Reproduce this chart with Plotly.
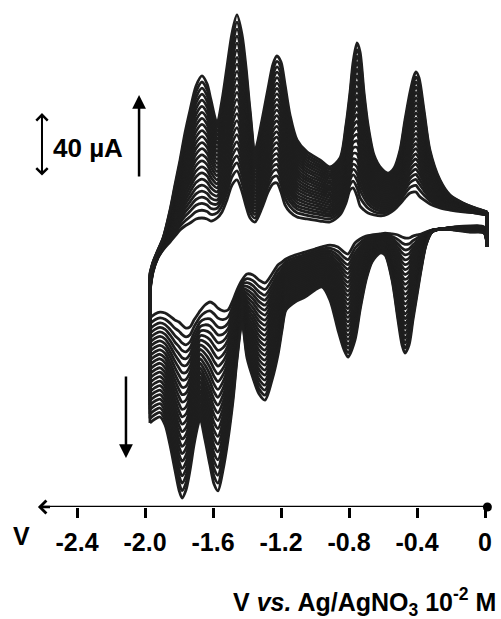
import plotly.graph_objects as go

# ---- anodic (return) branch, scanned -1.97 V -> 0 V ----
v_anodic = [-1.971, -1.953, -1.924, -1.894, -1.853, -1.824, -1.794, -1.765, -1.735, -1.700,
            -1.665, -1.635, -1.612, -1.576, -1.547, -1.518, -1.488, -1.459, -1.429, -1.406,
            -1.382, -1.353, -1.312, -1.276, -1.247, -1.224, -1.200, -1.176, -1.147, -1.106,
            -1.047, -0.971, -0.912, -0.853, -0.818, -0.794, -0.776, -0.753, -0.735, -0.712,
            -0.688, -0.653, -0.612, -0.571, -0.535, -0.500, -0.471, -0.441, -0.418, -0.406,
            -0.388, -0.359, -0.324, -0.265, -0.206, -0.129, -0.059, 0.012]
i_anodic_first = [-38.8, -26.3, -17.5, -12.5, -7.5, -3.8, 0.0, 2.5, 4.4, 6.9,
                  7.5, 6.9, 5.6, 7.5, 11.3, 18.8, 28.1, 31.3, 23.8, 15.0,
                  7.5, 5.0, 13.8, 23.8, 28.8, 29.4, 23.8, 15.6, 11.3, 8.1,
                  6.9, 5.6, 5.0, 9.4, 16.9, 25.0, 26.3, 21.3, 15.0, 12.5,
                  10.6, 9.4, 8.8, 10.0, 12.5, 16.3, 20.0, 23.1, 23.8, 23.8,
                  21.3, 18.8, 16.3, 13.8, 12.5, 11.3, 10.6, 9.4]
i_anodic_last = [-26.9, -20.0, -12.5, -5.0, 12.5, 28.1, 43.8, 60.6, 75.0, 90.0,
                 96.3, 91.3, 81.3, 66.9, 81.3, 101.9, 123.1, 134.4, 121.9, 101.9,
                 75.0, 50.0, 68.8, 88.8, 103.8, 108.8, 105.0, 90.6, 71.9, 56.3,
                 48.8, 43.8, 39.4, 45.0, 65.6, 86.3, 105.0, 116.9, 111.3, 86.3,
                 65.6, 46.9, 38.8, 35.6, 38.8, 50.0, 68.8, 86.3, 96.3, 98.8,
                 95.0, 75.0, 50.0, 31.3, 21.9, 16.9, 13.8, 11.3]

# ---- cathodic (forward) branch, scanned 0 V -> -1.97 V ----
v_cathodic = [0.012, -0.006, -0.088, -0.176, -0.265, -0.312, -0.347, -0.376, -0.400, -0.424,
              -0.447, -0.471, -0.488, -0.512, -0.547, -0.588, -0.618, -0.665, -0.700, -0.735,
              -0.765, -0.806, -0.829, -0.865, -0.912, -0.959, -1.000, -1.059, -1.118, -1.171,
              -1.194, -1.218, -1.253, -1.294, -1.329, -1.365, -1.400, -1.429, -1.459, -1.482,
              -1.512, -1.541, -1.571, -1.594, -1.618, -1.647, -1.676, -1.688, -1.712, -1.735,
              -1.759, -1.782, -1.800, -1.824, -1.853, -1.882, -1.912, -1.941, -1.971]
i_cathodic_first = [-10.6, 1.9, 2.5, 1.9, 0.6, 0.0, -1.3, -2.5, -3.1, -3.8,
                    -5.0, -5.0, -4.4, -3.1, -2.5, -1.9, -2.5, -3.1, -3.8, -5.6,
                    -8.1, -15.0, -13.8, -10.6, -9.4, -10.6, -11.9, -13.8, -15.6, -18.1,
                    -20.0, -21.9, -27.5, -33.1, -31.3, -28.1, -27.5, -31.3, -37.5, -43.8,
                    -50.0, -50.6, -48.8, -46.3, -45.0, -46.9, -50.6, -52.5, -56.3, -60.6,
                    -61.3, -59.4, -57.5, -56.3, -53.8, -51.9, -51.3, -52.5, -55.0]
i_cathodic_last = [-10.6, -1.9, -1.3, 0.0, 0.6, -1.3, -9.4, -25.0, -40.6, -56.3,
                   -71.9, -76.9, -71.9, -56.3, -31.3, -15.6, -14.4, -20.0, -31.3, -50.0,
                   -68.8, -79.4, -75.0, -62.5, -43.8, -35.6, -37.5, -41.9, -45.0, -50.0,
                   -62.5, -78.1, -93.8, -106.3, -102.5, -92.5, -80.0, -58.1, -81.3, -106.3,
                   -131.3, -150.0, -163.1, -158.8, -146.9, -131.3, -117.5, -121.9, -134.4, -150.0,
                   -162.5, -167.5, -162.5, -150.0, -134.4, -121.9, -116.9, -118.1, -120.6]

# peak current (uA) of the -1.46 V oxidation peak, read cycle by cycle
peak_by_cycle = [31.9, 37.5, 42.5, 46.9, 51.3, 55.6, 60.0, 64.4, 68.8, 73.1, 77.5, 81.9,
                 86.3, 90.6, 95.0, 99.4, 103.8, 108.1, 112.5, 116.9, 121.3, 125.6, 130.0, 134.4]

tick_vals = [-2.4, -2.0, -1.6, -1.2, -0.8, -0.4, 0]
tick_text = ["-2.4", "-2.0", "-1.6", "-1.2", "-0.8", "-0.4", "0"]

FONT = "Liberation Sans, Arial, sans-serif"
LINE = "rgb(30,30,30)"
LW = 2.8

fig = go.Figure()
p0, p1 = peak_by_cycle[0], peak_by_cycle[-1]
for p in peak_by_cycle:
    f = (p - p0) / (p1 - p0)
    ic = [a + f * (b - a) for a, b in zip(i_cathodic_first, i_cathodic_last)]
    ia = [a + f * (b - a) for a, b in zip(i_anodic_first, i_anodic_last)]
    fig.add_trace(go.Scatter(x=v_cathodic, y=ic, mode="lines",
                             line=dict(color=LINE, width=LW, shape="spline", smoothing=0.8),
                             hoverinfo="skip", showlegend=False))
    fig.add_trace(go.Scatter(x=[v_cathodic[-1], v_anodic[0]], y=[ic[-1], ia[0]], mode="lines",
                             line=dict(color=LINE, width=LW), hoverinfo="skip", showlegend=False))
    fig.add_trace(go.Scatter(x=v_anodic, y=ia, mode="lines",
                             line=dict(color=LINE, width=LW, shape="spline", smoothing=0.8),
                             hoverinfo="skip", showlegend=False))
    fig.add_trace(go.Scatter(x=[v_anodic[-1], v_cathodic[0]], y=[ia[-1], ic[0]], mode="lines",
                             line=dict(color=LINE, width=LW), hoverinfo="skip", showlegend=False))

YMIN, YMAX = -173.125, 143.75

# end dot of the potential axis
fig.add_trace(go.Scatter(x=[0.014], y=[YMIN], mode="markers",
                         marker=dict(color="black", size=9), cliponaxis=False,
                         hoverinfo="skip", showlegend=False))

fig.add_shape(type="line", xref="x", yref="y", x0=-2.62, x1=0.014, y0=YMIN, y1=YMIN,
              line=dict(color="black", width=2.5))

annotations = [
    # left arrowhead of potential axis
    dict(x=-2.63, y=YMIN, xref="x", yref="y", ax=-2.55, ay=YMIN, axref="x", ayref="y",
         showarrow=True, arrowhead=4, arrowsize=1, arrowwidth=2.5, arrowcolor="black", text=""),
    # 40 uA scale bar
    dict(x=-2.606, y=73.1, xref="x", yref="y", ax=-2.606, ay=33.1, axref="x", ayref="y",
         showarrow=True, arrowhead=4, arrowsize=1.1, arrowwidth=2, arrowside="end+start",
         startarrowhead=4, startarrowsize=1.1, arrowcolor="black", text=""),
    dict(x=-2.553, y=51.3, xref="x", yref="y", text="<b>40 µA</b>", showarrow=False,
         xanchor="left", yanchor="middle", font=dict(family=FONT, size=26, color="black")),
    # growth arrows
    dict(x=-2.035, y=84.4, xref="x", yref="y", ax=-2.035, ay=32.5, axref="x", ayref="y",
         showarrow=True, arrowhead=2, arrowsize=1.1, arrowwidth=2.5, arrowcolor="black", text=""),
    dict(x=-2.112, y=-142.5, xref="x", yref="y", ax=-2.112, ay=-90.6, axref="x", ayref="y",
         showarrow=True, arrowhead=2, arrowsize=1.1, arrowwidth=2.5, arrowcolor="black", text=""),
    # axis symbol and title
    dict(x=21 / 501, y=(507 - 536) / 507, xref="paper", yref="paper", text="<b>V</b>",
         showarrow=False, xanchor="center", yanchor="middle",
         font=dict(family=FONT, size=25, color="black")),
    dict(x=498 / 501, y=(507 - 602) / 507, xref="paper", yref="paper",
         text="<b>V <i>vs.</i> Ag/AgNO<sub>3</sub> 10<sup>-2</sup> M</b>",
         showarrow=False, xanchor="right", yanchor="middle",
         font=dict(family=FONT, size=25, color="black")),
]

fig.update_layout(
    width=501, height=619,
    margin=dict(l=0, r=0, t=0, b=112),
    paper_bgcolor="white", plot_bgcolor="white",
    annotations=annotations,
    xaxis=dict(range=[-2.853, 0.094], tickvals=tick_vals, ticktext=tick_text,
               ticks="outside", ticklen=10, tickwidth=2.5, tickcolor="black",
               showline=False, showgrid=False, zeroline=False, ticklabelstandoff=3,
               tickfont=dict(family=FONT, size=25, color="black", weight="bold")),
    yaxis=dict(range=[YMIN, YMAX], visible=False, showgrid=False, zeroline=False),
)

fig.write_html("out.html", config={"displayModeBar": False},
               post_script="document.body.style.margin='0';document.body.style.overflow='hidden';")
